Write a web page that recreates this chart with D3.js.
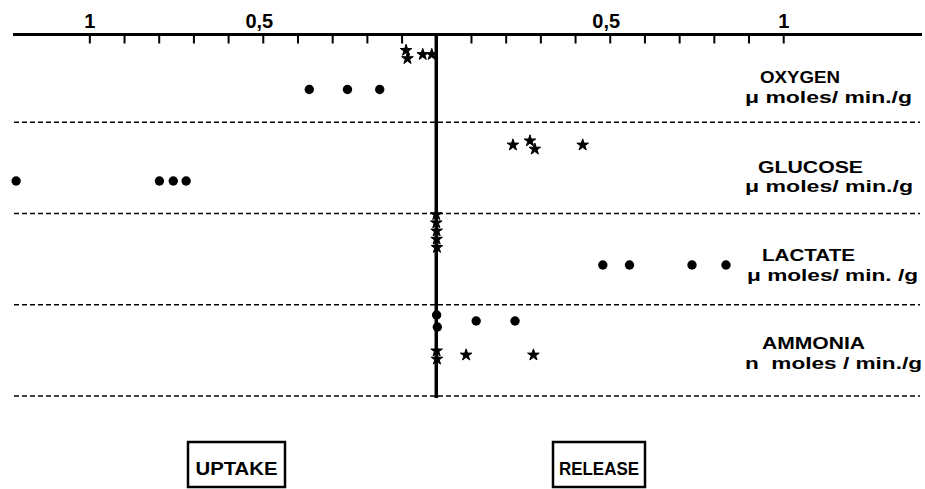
<!DOCTYPE html>
<html>
<head>
<meta charset="utf-8">
<script src="https://cdn.jsdelivr.net/npm/d3@7"></script>
<style>
  html, body { margin: 0; padding: 0; background: #fff; }
  svg { display: block; }
  text { font-family: "Liberation Sans", Arial, Helvetica, sans-serif; font-weight: bold; fill: #000; }
</style>
</head>
<body>
<svg id="chart" width="925" height="489"></svg>
<script>
// ---------------- DATA ----------------
// signed values: negative = uptake (left), positive = release (right)
const substances = ["OXYGEN", "GLUCOSE", "LACTATE", "AMMONIA"];
const unitLabels = ["\u03bc moles/ min./g", "\u03bc moles/ min./g", "\u03bc moles/ min. /g", "n  moles / min./g"];
const tickValues = [-1, -0.9, -0.8, -0.7, -0.6, -0.5, -0.4, -0.3, -0.2, -0.1, 0.1, 0.2, 0.3, 0.4, 0.5, 0.6, 0.7, 0.8, 0.9, 1];
const tickLabels = { "-1": "1", "-0.5": "0,5", "0.5": "0,5", "1": "1" };
const sideLabels = ["UPTAKE", "RELEASE"];

const oxygenStars  = [-0.087, -0.083, -0.039, -0.013];
const oxygenDots   = [-0.366, -0.256, -0.163];
const glucoseStars = [0.221, 0.270, 0.284, 0.422];
const glucoseDots  = [-1.211, -0.798, -0.758, -0.721];
const lactateStars = [0.0, 0.001, 0.002, 0.001, 0.0];
const lactateDots  = [0.480, 0.557, 0.737, 0.835];
const ammoniaDots  = [0.001, 0.003, 0.115, 0.227];
const ammoniaStars = [0.001, 0.002, 0.086, 0.280];

const series = [
  { substance: "OXYGEN",  symbol: "star", values: oxygenStars },
  { substance: "OXYGEN",  symbol: "dot",  values: oxygenDots },
  { substance: "GLUCOSE", symbol: "star", values: glucoseStars },
  { substance: "GLUCOSE", symbol: "dot",  values: glucoseDots },
  { substance: "LACTATE", symbol: "star", values: lactateStars },
  { substance: "LACTATE", symbol: "dot",  values: lactateDots },
  { substance: "AMMONIA", symbol: "dot",  values: ammoniaDots },
  { substance: "AMMONIA", symbol: "star", values: ammoniaStars }
];

// ---------------- LAYOUT ----------------
const svg = d3.select("#chart");
const axisY = 34.5;
const x = d3.scaleLinear().domain([-1.22, 1.4]).range([13, 922]);
const y = d3.scaleBand().domain(substances).range([31, 396]).paddingInner(0).paddingOuter(0);

// lane offsets within each band (px from band top)
const lanes = {
  OXYGEN:  { star: 23.5,  dot: 58.5 },
  GLUCOSE: { star: 22.75, dot: 58.75 },
  LACTATE: { star: 17.5,  dot: 51.5 },
  AMMONIA: { star: 50.25, dot: 16.25 }
};
const stackStep = { star: 8.2, dot: 12 };
const stackGap  = { star: 8,   dot: 10 };
const labelLayout = {
  OXYGEN:  { nx: 760, nw: 80,  ny: 52,   ux: 745, uw: 167, uy: 72 },
  GLUCOSE: { nx: 758, nw: 105, ny: 50.5, ux: 745, uw: 168, uy: 70 },
  LACTATE: { nx: 762, nw: 93,  ny: 47.5, ux: 747, uw: 171, uy: 67 },
  AMMONIA: { nx: 762, nw: 103, ny: 44.5, ux: 745, uw: 177, uy: 64.5 }
};

// ---------------- DASHED SEPARATORS ----------------
svg.append("g").selectAll("line")
  .data(substances)
  .join("line")
  .attr("x1", 14).attr("x2", 920)
  .attr("y1", d => y(d) + y.bandwidth())
  .attr("y2", d => y(d) + y.bandwidth())
  .attr("stroke", "#000")
  .attr("stroke-width", 1.4)
  .attr("stroke-dasharray", "5,3");

// ---------------- TOP AXIS ----------------
const axis = d3.axisTop(x)
  .tickValues(tickValues)
  .tickSize(-9)
  .tickPadding(8)
  .tickFormat(d => tickLabels[String(d)] || "");

const gAxis = svg.append("g").attr("transform", `translate(0,${axisY})`).call(axis);
gAxis.select(".domain").remove();
gAxis.selectAll(".tick line").attr("stroke", "#000").attr("stroke-width", 2);
gAxis.selectAll(".tick text")
  .attr("font-size", 20)
  .attr("font-family", "Liberation Sans, Arial, sans-serif")
  .attr("font-weight", "bold")
  .attr("fill", "#000")
  .attr("dx", d => (Math.abs(d) === 0.5 ? -4 : 0))
  .attr("y", -7);

svg.append("line")
  .attr("x1", x(-1.22)).attr("x2", x(1.4))
  .attr("y1", axisY).attr("y2", axisY)
  .attr("stroke", "#000").attr("stroke-width", 3);

// ---------------- CENTER LINE ----------------
svg.append("line")
  .attr("x1", x(0)).attr("x2", x(0))
  .attr("y1", axisY - 1).attr("y2", y.range()[1] + 2)
  .attr("stroke", "#000").attr("stroke-width", 3.5);

// ---------------- POINTS ----------------
const points = [];
series.forEach(s => {
  const sorted = s.values.slice().sort((a, b) => a - b);
  const clusters = [];
  sorted.forEach(v => {
    const last = clusters[clusters.length - 1];
    if (last && Math.abs(x(v) - x(last[last.length - 1])) < stackGap[s.symbol]) last.push(v);
    else clusters.push([v]);
  });
  clusters.forEach(c => {
    c.forEach((v, i) => {
      points.push({
        substance: s.substance,
        symbol: s.symbol,
        value: v,
        cy: y(s.substance) + lanes[s.substance][s.symbol] + (i - (c.length - 1) / 2) * stackStep[s.symbol]
      });
    });
  });
});

svg.append("g").selectAll("circle")
  .data(points.filter(p => p.symbol === "dot"))
  .join("circle")
  .attr("cx", d => x(d.value))
  .attr("cy", d => d.cy)
  .attr("r", 4.7)
  .attr("fill", "#000");

const star = d3.symbol().type(d3.symbolStar).size(42);
svg.append("g").selectAll("path")
  .data(points.filter(p => p.symbol === "star"))
  .join("path")
  .attr("d", star)
  .attr("transform", d => `translate(${x(d.value)},${d.cy})`)
  .attr("fill", "#000")
  .attr("stroke", "#000")
  .attr("stroke-width", 1)
  .attr("stroke-linejoin", "round");

// ---------------- SUBSTANCE LABELS ----------------
const gLab = svg.append("g");
substances.forEach((s, i) => {
  const L = labelLayout[s];
  gLab.append("text")
    .attr("x", L.nx).attr("y", y(s) + L.ny)
    .attr("font-size", 16.5)
    .attr("textLength", L.nw).attr("lengthAdjust", "spacingAndGlyphs")
    .text(s);
  gLab.append("text")
    .attr("x", L.ux).attr("y", y(s) + L.uy)
    .attr("font-size", 17)
    .attr("textLength", L.uw).attr("lengthAdjust", "spacingAndGlyphs")
    .style("white-space", "pre")
    .attr("xml:space", "preserve")
    .text(unitLabels[i]);
});

// ---------------- UPTAKE / RELEASE BOXES ----------------
const boxes = [
  { label: sideLabels[0], x0: 188, x1: 285, tw: 82 },
  { label: sideLabels[1], x0: 553, x1: 645, tw: 80 }
];
const gBox = svg.append("g");
boxes.forEach(b => {
  gBox.append("rect")
    .attr("x", b.x0).attr("y", 442)
    .attr("width", b.x1 - b.x0).attr("height", 45)
    .attr("fill", "none").attr("stroke", "#000").attr("stroke-width", 2.5);
  gBox.append("text")
    .attr("x", (b.x0 + b.x1) / 2 - b.tw / 2).attr("y", 475)
    .attr("font-size", 19)
    .attr("textLength", b.tw).attr("lengthAdjust", "spacingAndGlyphs")
    .text(b.label);
});
</script>
</body>
</html>
